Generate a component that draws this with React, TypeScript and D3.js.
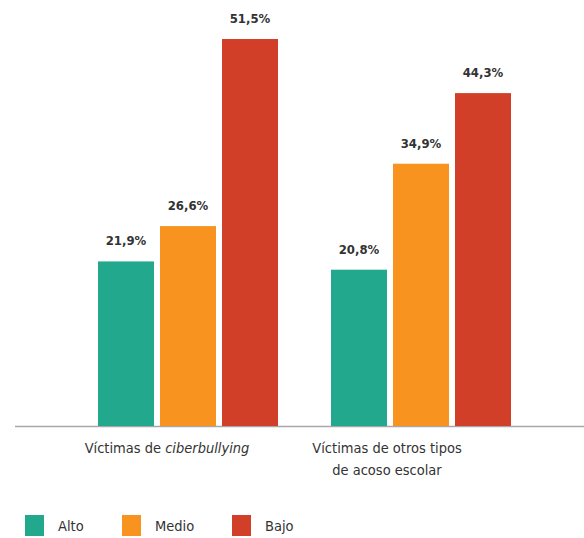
import React, { useEffect, useRef } from 'react';
import * as d3 from 'd3';

const categories = ['Víctimas de ciberbullying', 'Víctimas de otros tipos de acoso escolar'];
const levels = ['Alto', 'Medio', 'Bajo'];
const alto = [21.9, 20.8];
const medio = [26.6, 34.9];
const bajo = [51.5, 44.3];
const colors = ['#21a88d', '#f7931e', '#d13f28'];

const App: React.FC = () => {
  const ref = useRef<SVGSVGElement | null>(null);

  useEffect(() => {
    const width = 584;
    const height = 538;
    const baseline = 426;
    const font = '"DejaVu Sans Condensed", "DejaVu Sans", sans-serif';

    document.body.style.margin = '0';

    const svg = d3.select(ref.current);
    svg.selectAll('*').remove();
    svg.attr('width', width).attr('height', height).style('display', 'block');

    const series = [alto, medio, bajo];

    const x0 = d3.scaleBand().domain(categories).range([98, 511]).paddingInner(0.2275);
    const x1 = d3.scaleBand().domain(levels).range([0, x0.bandwidth()]).paddingInner(0.0968);
    const y = d3.scaleLinear().domain([0, 51.5]).range([baseline, 39]);

    // axis line
    svg.append('line')
      .attr('x1', 15).attr('x2', width)
      .attr('y1', baseline + 0.5).attr('y2', baseline + 0.5)
      .attr('stroke', '#a7a7a9').attr('stroke-width', 1.6);

    const rows = categories.flatMap((c, i) => levels.map((l, j) => ({ c, l, j, v: series[j][i] })));

    svg.append('g').selectAll('rect')
      .data(rows)
      .enter()
      .append('rect')
      .attr('x', d => (x0(d.c) as number) + (x1(d.l) as number))
      .attr('y', d => y(d.v))
      .attr('width', x1.bandwidth())
      .attr('height', d => baseline - y(d.v))
      .attr('fill', d => colors[d.j]);

    svg.append('g').selectAll('text')
      .data(rows)
      .enter()
      .append('text')
      .attr('x', d => (x0(d.c) as number) + (x1(d.l) as number) + x1.bandwidth() / 2)
      .attr('y', d => y(d.v) - 16)
      .attr('text-anchor', 'middle')
      .attr('font-family', font)
      .attr('font-size', 13)
      .attr('font-weight', 600)
      .attr('fill', '#333')
      .text(d => d3.format('.1f')(d.v).replace('.', ',') + '%');

    // category labels
    const xl = d3.scaleBand().domain(categories).range([57, 497]);
    const lab1 = svg.append('text')
      .attr('x', (xl(categories[0]) as number) + xl.bandwidth() / 2)
      .attr('y', 453)
      .attr('text-anchor', 'middle')
      .attr('font-family', font)
      .attr('font-size', 14.5)
      .attr('fill', '#333');
    lab1.append('tspan').text('Víctimas de ');
    lab1.append('tspan').attr('font-style', 'italic').text('ciberbullying');

    const lab2 = svg.append('text')
      .attr('text-anchor', 'middle')
      .attr('font-family', font)
      .attr('font-size', 14.5)
      .attr('fill', '#333');
    ['Víctimas de otros tipos', 'de acoso escolar'].forEach((t, i) => {
      lab2.append('tspan')
        .attr('x', (xl(categories[1]) as number) + xl.bandwidth() / 2)
        .attr('y', 453 + i * 22)
        .text(t);
    });

    // legend
    const legendX = [25, 122, 232];
    const lg = svg.append('g').selectAll('g')
      .data(levels)
      .enter()
      .append('g')
      .attr('transform', (d, i) => `translate(${legendX[i]},515)`);
    lg.append('rect')
      .attr('width', 19).attr('height', 21)
      .attr('fill', (d, i) => colors[i]);
    lg.append('text')
      .attr('x', 33).attr('y', 16)
      .attr('font-family', font)
      .attr('font-size', 14.5)
      .attr('fill', '#333')
      .text(d => d);
  }, []);

  return <svg ref={ref}></svg>;
};

export default App;
